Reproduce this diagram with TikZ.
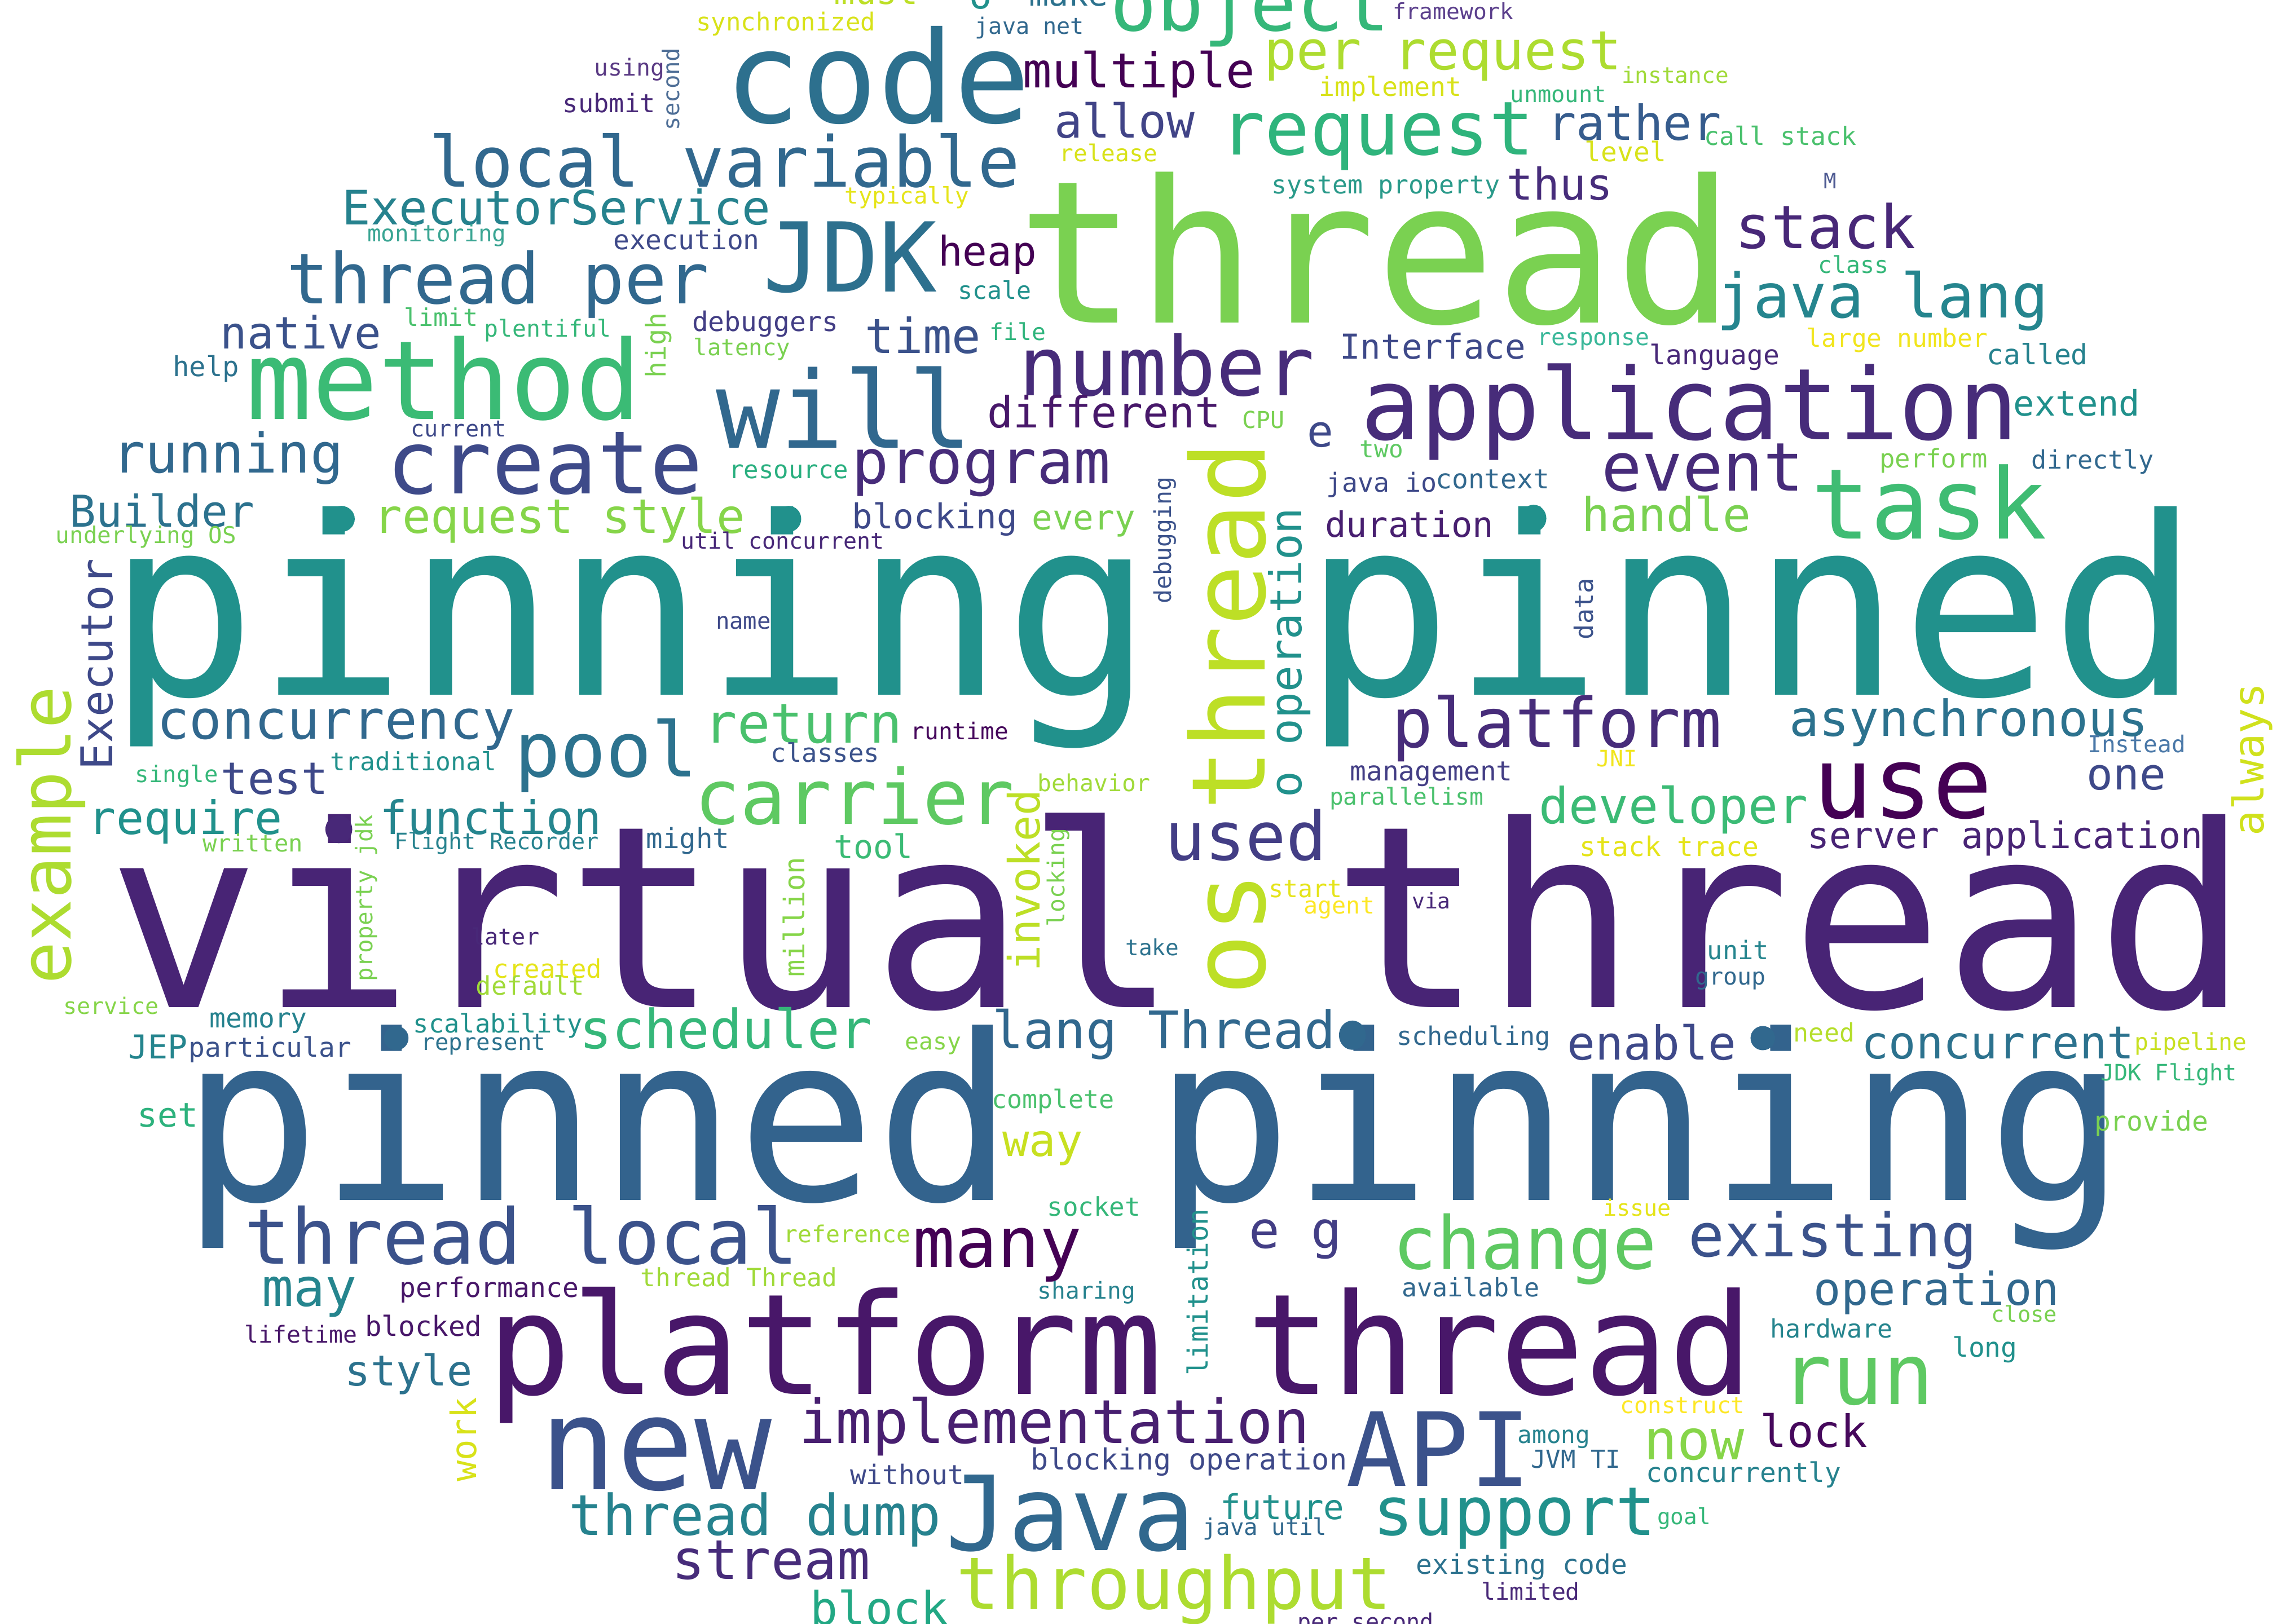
\documentclass[tikz,border=0pt]{standalone}
\usepackage{fontspec}
\setmainfont{DejaVu Sans Mono}
\newcounter{wc}
\tikzset{wordnode/.style={anchor=base, inner sep=0pt, outer sep=0pt}}
\newcommand\WH[5]{\stepcounter{wc}\node[wordnode, font=\fontsize{#3}{#3}\selectfont] (w\arabic{wc}) at (#1,#2) {\color[HTML]{#4}#5};}
\newcommand\WV[5]{\stepcounter{wc}\node[wordnode, rotate=90, font=\fontsize{#3}{#3}\selectfont] (w\arabic{wc}) at (#1,#2) {\color[HTML]{#4}#5};}
\newcommand\DOT[5]{\fill[color={rgb,255:red,0;green,0;blue,0}, fill=#5] (#1,#2) ellipse [x radius=#3, y radius=#4];}
\definecolor{dteal}{HTML}{21918C}
\definecolor{dpurp}{HTML}{482878}
\definecolor{dblue}{HTML}{31688E}
\begin{document}
\begin{tikzpicture}[x=1pt,y=-1pt]
\fill[white] (0,0) rectangle (1568,1112);
\useasboundingbox (0,0) rectangle (1568,1112);
\clip (0,0) rectangle (1568,1112);
% big words
\WH{807}{690}{174}{482475}{virtual thread}
\WH{790}{476}{170}{21918C}{pinning pinned}
\WH{790}{822}{158}{33638D}{pinned pinning}
\WH{942}{221}{136}{7AD151}{thread}
\WH{767}{955}{96}{481769}{platform thread}
\WH{601}{84}{87}{2D708E}{code}
\WH{1157}{301}{68}{472C7A}{application}
\WH{304}{287}{75}{3BBB75}{method}
\WH{578}{307}{73}{31688E}{will}
\WH{582}{200}{66}{2D708E}{JDK}
\WH{1321}{369}{67}{3FBC73}{task}
\WH{1303}{560}{68}{440154}{use}
\WH{449}{1020}{88}{3B528B}{new}
\WH{985}{1018}{70}{3B528B}{API}
\WH{733}{1062}{71}{31688E}{Java}
% medium words
\WH{780}{60}{33}{440154}{multiple}
\WH{856}{21}{53}{35B779}{object}
\WH{988}{47.5}{37}{ADDC30}{per request}
\WH{943}{106}{51}{2FB47C}{request}
\WH{496}{128}{48}{31688E}{local variable}
\WH{341}{208}{48}{31688E}{thread per}
\WH{381}{154}{32.5}{26828E}{ExecutorService}
\WH{1250}{170}{41}{482878}{stack}
\WH{1289}{217.5}{42}{25858E}{java lang}
\WH{799}{271}{56}{472C7A}{number}
\WH{373}{338}{60}{3E4A89}{create}
\WH{156}{324}{37.5}{31688E}{running}
\WH{1166}{336}{46}{472C7A}{event}
\WH{672}{331}{42}{472C7A}{program}
\WH{770}{94.5}{32}{414487}{allow}
\WH{1119}{96}{33}{365C8D}{rather}
\WH{1068}{137}{30}{472D7B}{thus}
\WH{676}{182}{28}{440154}{heap}
\WH{632}{242}{33}{3B528B}{time}
\WH{206}{239}{30.5}{3B528B}{native}
\WH{756}{293}{29.5}{48186A}{different}
\WH{981}{246}{23.5}{3E4989}{Interface}
\WH{904}{306}{30}{3E4989}{e}
\WH{383}{365}{32.5}{86D549}{request style}
\WH{111}{361}{30}{2C728E}{Builder}
\WH{1141}{364}{32}{7AD151}{handle}
\WH{965}{368}{24}{481F70}{duration}
\WH{742}{363}{23.5}{7AD151}{every}
\WH{640}{362}{23.5}{3E4989}{blocking}
\WH{230}{506}{37}{31688E}{concurrency}
\WH{415}{532}{52}{2C728E}{pool}
\WH{550}{509}{37.5}{4AC16D}{return}
\WH{585}{564.5}{52}{5EC962}{carrier}
\WH{1066}{512}{47}{472C7A}{platform}
\WH{1348}{504}{34}{2C728E}{asynchronous}
\WH{1146}{564}{34}{3BBB75}{developer}
\WH{1456}{541}{30}{3E4989}{one}
\WH{1373}{581}{25}{482475}{server application}
\WH{853}{589}{46}{433E85}{used}
\WH{188}{544}{30.5}{3E4989}{test}
\WH{127}{571.5}{31.5}{21918C}{require}
\WH{336}{571.5}{31.5}{25858E}{function}
\WH{497}{718}{37}{35B779}{scheduler}
\WH{797}{718}{35.5}{31688E}{lang Thread}
\WH{1131}{726}{32}{3E4989}{enable}
\WH{1368}{725}{31}{2C728E}{concurrent}
\WH{357}{865.5}{52.5}{3B528B}{thread local}
\WH{683}{868}{48}{440154}{many}
\WH{887}{855}{35}{433E85}{e g}
\WH{1044}{869}{50}{5EC962}{change}
\WH{1255}{860.5}{41}{3B528B}{existing}
\WH{1326}{894}{31}{31688E}{operation}
\WH{212}{894.5}{36}{25858E}{may}
\WH{280}{949}{29}{2C728E}{style}
\WH{1272}{962}{58}{5EC962}{run}
\WH{722}{988.5}{41.5}{481F70}{implementation}
\WH{1242}{991}{30.5}{46085C}{lock}
\WH{1160}{999.5}{38}{86D549}{now}
\WH{517}{1051.5}{38.5}{26828E}{thread dump}
\WH{1037}{1051.5}{46}{21918C}{support}
\WH{528}{1081.5}{37.5}{472C7A}{stream}
\WH{804}{1102}{49.5}{ADDC30}{throughput}
\WH{602}{1113}{31.5}{22A884}{block}
\WH{714}{792}{30.5}{C8E020}{way}
\WH{878}{1040.5}{23.5}{21918C}{future}
\WH{814}{1006.5}{20}{3E4989}{blocking operation}
\WH{621}{1016.5}{18.5}{3E4989}{without}
\WH{108}{725}{22.5}{25858E}{JEP}
\WH{115}{772}{23}{2DB27D}{set}
\WH{598}{588}{22.5}{3BBB75}{tool}
\WH{1422}{285}{24}{21918C}{extend}
% small words
\WH{600}{3}{24}{BDDF26}{must}
\WH{671.5}{6}{26}{21918C}{o}
\WH{731.6}{4}{22.5}{2C728E}{make}
\WH{538}{21}{17}{D8E219}{synchronized}
\WH{995}{13.5}{15.3}{5B3F8C}{framework}
\WH{705}{23.5}{15.5}{31688E}{java net}
\WH{431}{52}{16}{5A3A84}{using}
\WH{417}{77}{17.5}{482878}{submit}
\WH{1147}{57}{15.2}{A0DA39}{instance}
\WH{952}{66}{18}{D8E219}{implement}
\WH{1067}{70}{15.6}{35B779}{unmount}
\WH{1219}{99.3}{17.3}{4AC16D}{call stack}
\WH{1113}{110.7}{18.5}{D8E219}{level}
\WH{759}{110.5}{15.9}{D8E219}{release}
\WH{621}{139.5}{15.7}{E5E419}{typically}
\WH{949}{132.5}{17.3}{2A9A8A}{system property}
\WH{1253}{129}{14.5}{4E5A92}{M}
\WH{299}{165.6}{15.8}{3AA593}{monitoring}
\WH{470}{170.8}{18.5}{3E4989}{execution}
\WH{1269}{187}{16}{35B779}{class}
\WH{681}{205}{16.7}{21918C}{scale}
\WH{302}{223.5}{16.7}{4AC16D}{limit}
\WH{375}{230.6}{16}{35B779}{plentiful}
\WH{524}{227}{18.5}{433E85}{debuggers}
\WH{508}{243.6}{15.7}{7AD151}{latency}
\WH{697}{233}{16}{2FB47C}{file}
\WH{141}{257.8}{18.9}{2C728E}{help}
\WH{314}{299}{15.5}{3E4989}{current}
\WH{540}{327.6}{17}{29AF7F}{resource}
\WH{865}{293.3}{16}{7AD151}{CPU}
\WH{946}{313.4}{16.5}{5EC962}{two}
\WH{946}{337}{18}{3E4989}{java io}
\WH{1022}{334.7}{18.5}{31688E}{context}
\WH{1324}{320.5}{17.6}{7AD151}{perform}
\WH{1433}{321.2}{17.4}{31688E}{directly}
\WH{1395}{249.5}{19.2}{26828E}{called}
\WH{1174}{249.5}{18.5}{482878}{language}
\WH{1299}{237.7}{17.2}{F1E51D}{large number}
\WH{1091}{236.5}{16}{3BB89A}{response}
\WH{100}{372}{15.8}{7AD151}{underlying OS}
\WH{536}{376}{15.4}{482878}{util concurrent}
\WH{509}{430.8}{15.7}{3E4989}{name}
\WH{657}{506.5}{15.9}{46085C}{runtime}
\WH{565}{521.8}{17.6}{3B528B}{classes}
\WH{283}{527.7}{17.2}{21918C}{traditional}
\WH{121}{536}{15.7}{35B779}{single}
\WH{173}{583.3}{16.3}{7AD151}{written}
\WH{340}{582}{15.5}{26828E}{Flight Recorder}
\WH{471}{581}{19}{31688E}{might}
\WH{749}{542}{16}{A0DA39}{behavior}
\WH{980}{534.8}{18.5}{433E85}{management}
\WH{963}{551.4}{15.9}{4AC16D}{parallelism}
\WH{1463}{515.4}{15.9}{4A78A8}{Instead}
\WH{1107}{525}{15.5}{F1E51D}{JNI}
\WH{1143}{586.4}{18.5}{E5E419}{stack trace}
\WH{894}{614.8}{16.7}{E5E419}{start}
\WH{917}{626}{16.1}{FDE725}{agent}
\WH{980}{622.3}{14.7}{482878}{via}
\WH{789}{654.3}{15.2}{2C728E}{take}
\WH{346}{647.2}{15.5}{482878}{later}
\WH{375}{669.7}{17.6}{E5E419}{created}
\WH{363}{681.5}{17.6}{A0DA39}{default}
\WH{76}{694.5}{15.5}{86D549}{service}
\WH{177}{704}{18.5}{26828E}{memory}
\WH{341}{707.5}{17.5}{21918C}{scalability}
\WH{331}{719.3}{15.7}{2C728E}{represent}
\WH{185}{724}{18.5}{3B528B}{particular}
\WH{639}{719}{16}{86D549}{easy}
\WH{1009}{716}{17.5}{31688E}{scheduling}
\WH{1249}{713.4}{17.4}{B5DE2B}{need}
\WH{1500}{719.3}{16}{C8E020}{pipeline}
\WH{1485}{740}{15.5}{35B779}{JDK Flight}
\WH{1190}{657.3}{17.5}{25858E}{unit}
\WH{1185}{674.4}{16.1}{31688E}{group}
\WH{1473}{774.5}{18.5}{7AD151}{provide}
\WH{721}{759.2}{17.4}{4AC16D}{complete}
\WH{749}{832.9}{17.7}{35B779}{socket}
\WH{580}{851}{16}{A0DA39}{reference}
\WH{1121}{832.9}{15.5}{E5E419}{issue}
\WH{1007}{888}{17.4}{31688E}{available}
\WH{1386}{905.3}{15}{7AD151}{close}
\WH{1254}{916.2}{17.4}{25858E}{hardware}
\WH{1359}{929.5}{18.5}{21918C}{long}
\WH{1152}{968}{15.7}{FDE725}{construct}
\WH{1064}{988.6}{16.5}{26828E}{among}
\WH{1079}{1005.5}{17}{31688E}{JVM TI}
\WH{1194}{1015.2}{18.5}{26828E}{concurrently}
\WH{1153}{1044}{15.2}{35B779}{goal}
\WH{1042}{1078}{18.5}{2C728E}{existing code}
\WH{1048}{1096}{16}{482878}{limited}
\WH{935}{1116.5}{15.5}{482878}{per second}
\WH{866}{1051.4}{15.7}{31688E}{java util}
\WH{335}{888.4}{18.5}{481769}{performance}
\WH{506}{881.2}{17.2}{A0DA39}{thread Thread}
\WH{290}{915}{19}{481769}{blocked}
\WH{206}{919.8}{16}{481769}{lifetime}
\WH{744}{889.6}{15.9}{26828E}{sharing}
% rotated words
\WV{866}{492}{70}{BDDF26}{os thread}
\WV{891}{447}{30}{21918C}{o operation}
\WV{48.6}{572}{48.5}{ADDC30}{example}
\WV{77}{455}{30}{3E4989}{Executor}
\WV{712}{603}{29.6}{BDDF26}{invoked}
\WV{729}{601}{16}{7AD151}{locking}
\WV{551}{628}{19.5}{86D549}{million}
\WV{802}{370}{16}{3B528B}{debugging}
\WV{1550}{520}{29}{D0E11C}{always}
\WV{1091}{417}{17.4}{3B528B}{data}
\WV{456}{236.5}{18.7}{7AD151}{high}
\WV{465}{61}{15.7}{4E6E96}{second}
\WV{255}{615}{15.8}{7AD151}{property jdk}
\WV{326}{986}{24}{D8E219}{work}
\WV{827}{885}{19}{21918C}{limitation}
% dots
\fill[dteal] (233.7,355.4) ellipse [x radius=9.2pt, y radius=8.9pt];
\fill[dteal] (540,355.4) ellipse [x radius=8.6pt, y radius=8.9pt];
\fill[dteal] (1050,355) ellipse [x radius=8.8pt, y radius=9.3pt];
\fill[dpurp] (232,568) ellipse [x radius=9.2pt, y radius=9.5pt];
\fill[dblue] (271.3,711) ellipse [x radius=8.4pt, y radius=8.3pt];
\fill[dblue] (926,709) ellipse [x radius=9.2pt, y radius=10pt];
\fill[dblue] (1207,711) ellipse [x radius=8.4pt, y radius=8.3pt];
\end{tikzpicture}
\end{document}
